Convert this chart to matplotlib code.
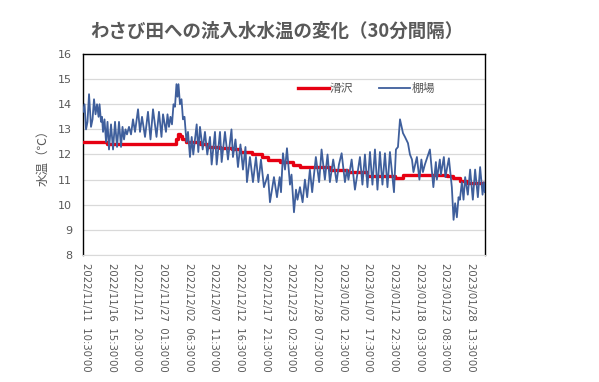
import matplotlib
matplotlib.use("Agg")
import matplotlib.pyplot as plt
import pandas as pd
import numpy as np

# ---- data (days since 2022/11/11 10:30) ----
base_time = "2022-11-11 10:30"

tanaba_days = [
    -0.61, -0.30, 0.00, 0.30, 0.61, 1.01, 1.32, 1.62, 1.93, 2.23, 2.54, 2.74, 3.04, 3.24, 3.45,
    3.75, 4.06, 4.36, 4.66, 5.07, 5.48, 5.88, 6.29, 6.69, 7.10, 7.40, 7.71, 8.01, 8.31, 8.72,
    9.13, 9.53, 9.94, 10.55, 10.95, 11.36, 11.97, 12.57, 13.08, 13.59, 14.30, 14.80, 15.31, 15.62,
    16.22, 16.53, 16.83, 17.14, 17.44, 17.75, 18.05, 18.35, 18.56, 18.76, 19.06, 19.37, 19.67,
    19.98, 20.38, 20.69, 21.09, 21.44, 21.76, 22.45, 22.78, 23.12, 23.67, 24.13, 24.60, 25.15,
    25.49, 26.16, 26.51, 27.18, 27.52, 28.19, 28.80, 29.51, 29.81, 30.32, 30.83, 31.33, 31.84,
    32.35, 32.65, 33.26, 33.87, 34.48, 34.98, 35.49, 36.10, 36.91, 37.32, 38.13, 38.74, 39.29,
    39.56, 39.96, 40.37, 40.77, 41.38, 41.69, 42.19, 42.60, 42.90, 43.41, 43.94, 44.41, 44.87,
    45.42, 45.88, 46.63, 47.30, 47.79, 48.46, 49.00, 49.48, 50.15, 50.84, 51.31, 51.86, 52.53,
    52.93, 53.24, 53.89, 54.56, 55.58, 56.08, 56.59, 57.10, 57.61, 58.11, 58.62, 59.13, 59.63,
    60.14, 60.65, 61.16, 61.66, 62.48, 62.88, 63.29, 63.70, 64.31, 64.71, 65.32, 65.72, 66.13,
    66.43, 67.13, 67.64, 68.04, 68.35, 68.75, 69.77, 70.47, 70.98, 71.18, 71.79, 72.00, 72.60,
    72.91, 73.62, 74.22, 74.57, 74.89, 75.24, 75.58, 75.85, 76.25, 76.59, 76.92, 77.46, 77.93,
    78.48, 78.94, 79.50, 79.96, 80.45, 80.72, 80.92,
]
tanaba_temp = [
    13.7, 14.0, 13.0, 13.3, 14.4, 13.1, 13.4, 14.2, 13.6, 14.0, 13.5, 14.0, 13.3, 13.5, 12.9,
    13.4, 12.5, 13.3, 12.2, 13.2, 12.2, 13.3, 12.3, 13.3, 12.3, 13.1, 12.6, 13.0, 12.8, 13.1,
    12.8, 13.4, 12.9, 13.8, 12.9, 13.5, 12.7, 13.7, 12.6, 13.8, 12.7, 13.7, 12.7, 13.6,
    12.9, 13.6, 13.1, 13.5, 13.2, 14.0, 13.9, 14.8, 14.3, 14.8, 14.0, 14.2, 13.4,
    13.5, 12.5, 12.9, 11.9, 12.7, 12.0, 13.2, 12.1, 13.1, 12.2, 12.9, 12.0, 12.7,
    11.6, 12.9, 11.6, 12.9, 11.7, 12.9, 11.8, 13.0, 11.9, 12.6, 11.5, 12.4, 11.4,
    12.3, 10.9, 11.9, 10.9, 11.9, 10.9, 11.8, 10.7, 11.2, 10.1, 11.1, 10.3, 11.1,
    10.5, 12.05, 11.4, 12.25, 10.8, 11.2, 9.7, 10.6, 10.2, 10.7, 10.1, 11.0, 10.3,
    11.4, 10.5, 11.9, 10.9, 12.2, 11.0, 12.0, 10.9, 11.8, 10.9, 11.6, 12.05, 10.9,
    11.4, 11.0, 11.8, 10.6, 11.9, 10.8, 12.0, 10.7, 12.1, 10.8, 12.2, 10.6, 12.1,
    10.8, 12.05, 10.7, 12.1, 10.5, 12.2, 12.3, 13.4, 12.85, 12.7, 12.45, 12.0, 11.8,
    11.3, 11.9, 11.0, 11.8, 11.3, 11.6, 12.2, 10.7, 11.7, 11.0, 11.8, 11.2, 11.9,
    11.1, 11.85, 10.7, 9.4, 10.06, 9.5, 10.3, 10.2, 10.9, 10.2, 11.1, 10.4, 11.4,
    10.2, 11.4, 10.3, 11.5, 10.4, 10.9, 10.5,
]

namesawa_days = [
    -0.61, 4.26, 18.05, 18.35, 18.56, 18.76, 19.06, 19.47, 20.28, 23.12, 24.54, 27.18, 29.61,
    31.23, 33.66, 35.69, 36.91, 39.34, 41.98, 43.41, 49.48, 52.93, 56.99, 62.67, 64.29, 73.21,
    74.42, 75.85, 77.27, 80.92,
]
namesawa_temp = [
    12.5, 12.4, 12.4, 12.6, 12.75, 12.8, 12.75, 12.6, 12.5, 12.4, 12.3, 12.25, 12.2,
    12.1, 12.0, 11.9, 11.8, 11.7, 11.6, 11.5, 11.4, 11.3, 11.15, 11.05, 11.2, 11.15,
    11.05, 10.95, 10.85, 10.85,
]

tick_labels = [
    "2022/11/11  10:30'00", "2022/11/16  15:30'00", "2022/11/21  20:30'00",
    "2022/11/27  01:30'00", "2022/12/02  06:30'00", "2022/12/07  11:30'00",
    "2022/12/12  16:30'00", "2022/12/17  21:30'00", "2022/12/23  02:30'00",
    "2022/12/28  07:30'00", "2023/01/02  12:30'00", "2023/01/07  17:30'00",
    "2023/01/12  22:30'00", "2023/01/18  03:30'00", "2023/01/23  08:30'00",
    "2023/01/28  13:30'00",
]
y_ticks = [8, 9, 10, 11, 12, 13, 14, 15, 16]

title = "わさび田への流入水水温の変化（30分間隔）"
ylabel = "水温（℃）"
series_names = ["滑沢", "棚場"]

# ---- plotting ----
cjk = ["Noto Sans CJK JP", "DejaVu Sans"]
gray = "#595959"

base = pd.Timestamp(base_time)
tb_x = base + pd.to_timedelta(tanaba_days, unit="D")
ns_x = base + pd.to_timedelta(namesawa_days, unit="D")
tick_pos = pd.to_datetime([s.replace("  ", " ").replace("'00", "") for s in tick_labels],
                          format="%Y/%m/%d %H:%M")

fig = plt.figure(figsize=(5.99, 3.82), dpi=100)
ax = fig.add_axes([0.1386, 0.3325, 0.6711, 0.5261])

ax.plot(ns_x, namesawa_temp, color="#E60012", lw=2.4, drawstyle="steps-post",
        label=series_names[0], zorder=3)
ax.plot(tb_x, tanaba_temp, color="#3F5F9C", lw=1.3, label=series_names[1], zorder=4)

ax.set_ylim(8, 16)
ax.set_yticks(y_ticks)
ax.set_yticklabels([str(v) for v in y_ticks], fontsize=8, color=gray)
ax.set_xlim(base + pd.Timedelta(days=-0.61), base + pd.Timedelta(days=80.95))
ax.set_xticks(tick_pos)
ax.set_xticklabels(tick_labels, rotation=270, fontsize=7.3, color=gray,
                   va="top", ha="center")
ax.tick_params(axis="both", length=0, pad=8)
ax.tick_params(axis="x", pad=6)

ax.grid(axis="y", color="#d9d9d9", lw=0.9)
ax.set_axisbelow(True)
for s in ["top", "left", "right"]:
    ax.spines[s].set_color("black")
    ax.spines[s].set_linewidth(1.0)
ax.spines["bottom"].set_color("#d9d9d9")

ax.set_ylabel(ylabel, family=cjk, fontsize=9, color=gray, labelpad=6)
fig.text(0.463, 0.918, title, family=cjk, fontsize=13.3, fontweight="bold",
         color=gray, ha="center", va="center")

leg = ax.legend(loc="center", bbox_to_anchor=(0.705, 0.83), ncol=2, frameon=False,
                prop={"family": cjk, "size": 8.5}, handlelength=2.6, handletextpad=0.1,
                columnspacing=2.2)
for t in leg.get_texts():
    t.set_color(gray)

fig.savefig("out.png", dpi=100)
